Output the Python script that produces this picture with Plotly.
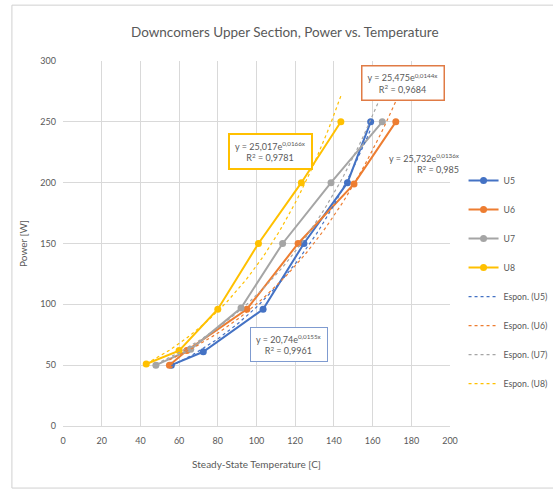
import numpy as np
import plotly.graph_objects as go

# Measured steady-state temperatures [C] and applied power [W]
u5_temp = [56, 72.5, 103.4, 124.5, 147, 159]
u5_power = [50, 61, 96, 150, 200, 250]

u6_temp = [55, 64, 95, 121.5, 150.4, 172]
u6_power = [50, 62, 96, 150, 199, 250]

u7_temp = [48, 66, 92, 113.5, 138.5, 165]
u7_power = [50, 63, 97, 150, 200, 250]

u8_temp = [43, 60, 80, 101, 123.2, 143.6]
u8_power = [51, 62, 96, 150, 200, 250]

# Exponential trendline coefficients: power = a * exp(b * temp)
fit_a = {"U5": 20.74, "U6": 25.732, "U7": 25.475, "U8": 25.017}
fit_b = {"U5": 0.0155, "U6": 0.0136, "U7": 0.0144, "U8": 0.0166}
fit_r2 = {"U5": "0,9961", "U6": "0,985", "U7": "0,9684", "U8": "0,9781"}

colors = {"U5": "#4472C4", "U6": "#ED7D31", "U7": "#A5A5A5", "U8": "#FFC000"}
series = {
    "U5": (u5_temp, u5_power),
    "U6": (u6_temp, u6_power),
    "U7": (u7_temp, u7_power),
    "U8": (u8_temp, u8_power),
}

FONT = "Lato, Open Sans, sans-serif"
TXT = "#595959"

fig = go.Figure()

for name, (tx, py) in series.items():
    fig.add_trace(go.Scatter(
        x=tx, y=py, name=name, mode="lines+markers",
        line=dict(color=colors[name], width=2),
        marker=dict(color=colors[name], size=7, symbol="circle"),
        legendgroup=name,
    ))

for name, (tx, py) in series.items():
    xs = np.linspace(min(tx), max(tx), 60)
    ys = fit_a[name] * np.exp(fit_b[name] * xs)
    fig.add_trace(go.Scatter(
        x=xs, y=ys, name=f"Espon. ({name})", mode="lines",
        line=dict(color=colors[name], width=1.2, dash="dot"),
        legendgroup="fit" + name,
    ))


def eq_text(name):
    a = f"{fit_a[name]}".replace(".", ",")
    b = f"{fit_b[name]:.4f}".replace(".", ",")
    return f"y = {a}e<sup>{b}x</sup><br>R<sup>2</sup> = {fit_r2[name]}"


labels = [
    ("U8", 107, 226, "#FFC000", 2),
    ("U7", 175.5, 282, "#E07B45", 1.5),
    ("U6", 187, 216, None, 0),
    ("U5", 117, 67, "#7F9BD0", 1),
]
for name, ax, ay, bc, bw in labels:
    ann = dict(
        x=ax, y=ay, xref="x", yref="y", text=eq_text(name), showarrow=False,
        font=dict(family=FONT, size=9, color=TXT), align="center",
        bgcolor="white" if bc else "rgba(0,0,0,0)",
    )
    if bc:
        ann.update(bordercolor=bc, borderwidth=bw, borderpad=5)
    else:
        ann.update(align="right")
    fig.add_annotation(**ann)

# Chart-area frame
fig.add_shape(type="rect", xref="paper", yref="paper",
              x0=-0.132, x1=1.30, y0=-0.17, y1=1.153,
              line=dict(color="#D0D0D0", width=1), layer="below")

fig.update_layout(
    width=553, height=492,
    margin=dict(l=63, r=103, t=61, b=66, autoexpand=False),
    paper_bgcolor="white", plot_bgcolor="white",
    font=dict(family=FONT, color=TXT, size=10),
    title=dict(text="Downcomers Upper Section, Power vs. Temperature",
               x=0.515, xref="container", xanchor="center", y=0.935, yanchor="middle",
               font=dict(family=FONT, size=13.5, color=TXT)),
    showlegend=True,
    legend=dict(x=1.035, xanchor="left", y=0.712, yanchor="top",
                font=dict(family=FONT, size=8.7, color=TXT),
                tracegroupgap=10, itemwidth=30, bgcolor="rgba(0,0,0,0)"),
)

fig.update_xaxes(
    range=[0, 200], tick0=0, dtick=20, showgrid=True, gridcolor="#D9D9D9", gridwidth=1,
    zeroline=False, showline=True, linecolor="#D9D9D9", ticks="",
    ticklabelstandoff=6,
    tickfont=dict(family=FONT, size=9, color=TXT),
    title=dict(text="Steady-State Temperature [C]", standoff=16,
               font=dict(family=FONT, size=10, color=TXT)),
)
fig.update_yaxes(
    range=[0, 300], tick0=0, dtick=50, showgrid=True, gridcolor="#D9D9D9", gridwidth=1,
    zeroline=False, showline=False, ticks="",
    ticklabelstandoff=6,
    tickfont=dict(family=FONT, size=9, color=TXT),
    title=dict(text="Power [W]", standoff=10,
               font=dict(family=FONT, size=10, color=TXT)),
)

fig.write_html("out.html")
